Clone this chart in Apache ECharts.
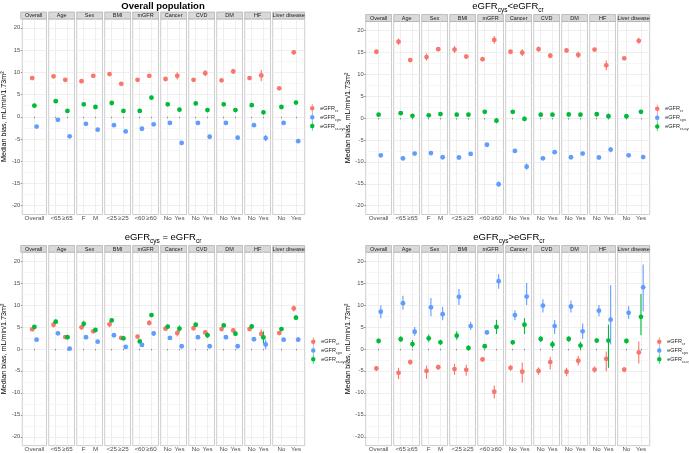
<!DOCTYPE html>
<html>
<head>
<meta charset="utf-8">
<script src="https://cdn.jsdelivr.net/npm/echarts@6/dist/echarts.min.js"></script>
<style>
html,body{margin:0;padding:0;background:#fff}
#main{width:689px;height:453px}
</style>
</head>
<body>
<div id="main"></div>
<script>
// facets and their levels
var facetNames = ['Overall','Age','Sex','BMI','mGFR','Cancer','CVD','DM','HF','Liver disease'];
var facetLevels = [['Overall'],['<65','≥65'],['F','M'],['<25','≥25'],['<60','≥60'],['No','Yes'],['No','Yes'],['No','Yes'],['No','Yes'],['No','Yes']];
var yTicks = [-20,-15,-10,-5,0,5,10,15,20];
var yGrid = [-20,-17.5,-15,-12.5,-10,-7.5,-5,-2.5,0,2.5,5,7.5,10,12.5,15,17.5,20];

// panel 1: overall population (median, [lo, hi])
var p1Cr = [8.7,9.1,8.3,8.0,9.2,9.6,7.4,8.3,9.2,8.5,9.2,8.3,9.8,8.2,10.2,8.7,9.3,6.4,14.5];
var p1CrCI = [[8.4,9.0],[8.7,9.5],[8.0,8.6],[7.6,8.4],[8.8,9.6],[9.2,10.0],[7.1,7.7],[8.0,8.6],[8.8,9.6],[8.2,8.8],[8.4,10.0],[8.0,8.6],[9.1,10.5],[7.9,8.5],[9.6,10.8],[8.4,9.0],[8.0,10.6],[6.1,6.7],[14.0,15.0]];
var p1Cys = [-2.2,-0.7,-4.4,-1.6,-2.9,-1.9,-3.3,-2.7,-1.7,-1.4,-5.9,-1.4,-4.5,-1.4,-4.7,-1.9,-4.8,-1.4,-5.5];
var p1CysCI = [[-2.5,-1.9],[-1.0,-0.4],[-4.7,-4.1],[-1.9,-1.3],[-3.2,-2.6],[-2.2,-1.6],[-3.6,-3.0],[-3.0,-2.4],[-2.0,-1.4],[-1.7,-1.1],[-6.3,-5.5],[-1.7,-1.1],[-4.9,-4.1],[-1.7,-1.1],[-5.1,-4.3],[-2.2,-1.6],[-5.5,-4.1],[-1.7,-1.1],[-5.9,-5.1]];
var p1CrCys = [2.5,3.5,1.3,2.8,2.2,3.1,1.3,1.3,4.3,2.8,1.6,3.0,1.5,2.8,1.5,2.6,1.0,2.2,3.2];
var p1CrCysCI = [[2.3,2.7],[3.2,3.8],[1.1,1.5],[2.5,3.1],[1.9,2.5],[2.8,3.4],[1.1,1.5],[1.1,1.5],[3.9,4.7],[2.6,3.0],[1.2,2.0],[2.8,3.2],[1.1,1.9],[2.6,3.0],[1.1,1.9],[2.4,2.8],[0.5,1.5],[2.0,2.4],[2.8,3.6]];

// panel 2: eGFRcys < eGFRcr
var p2Cr = [15.1,17.4,13.2,13.9,15.7,15.6,14.0,13.4,17.8,15.1,14.9,15.7,14.2,15.4,14.4,15.6,12.0,13.6,17.6];
var p2CrCI = [[14.8,15.4],[16.7,18.1],[12.7,13.7],[13.1,14.7],[15.2,16.2],[14.8,16.4],[13.5,14.5],[12.9,13.9],[16.9,18.7],[14.7,15.5],[14.1,15.7],[15.1,16.3],[13.6,14.8],[15.0,15.8],[13.7,15.1],[15.2,16.0],[10.9,13.1],[13.2,14.0],[16.9,18.3]];
var p2Cys = [-8.5,-9.2,-8.1,-8.0,-8.95,-9.0,-8.2,-6.1,-15.1,-7.5,-11.1,-9.2,-7.8,-8.95,-8.1,-9.0,-7.2,-8.5,-8.9];
var p2CysCI = [[-8.8,-8.2],[-9.7,-8.7],[-8.5,-7.7],[-8.5,-7.5],[-9.35,-8.55],[-9.4,-8.6],[-8.6,-7.8],[-6.5,-5.7],[-15.7,-14.5],[-7.9,-7.1],[-11.8,-10.4],[-9.6,-8.8],[-8.2,-7.4],[-9.25,-8.65],[-8.5,-7.7],[-9.3,-8.7],[-7.8,-6.6],[-8.8,-8.2],[-9.3,-8.5]];
var p2CrCys = [0.75,1.1,0.5,0.6,0.9,0.75,0.75,1.4,-0.6,1.4,-0.2,0.75,0.75,0.8,0.75,0.85,0.4,0.4,1.4];
var p2CrCysCI = [[0.55,0.95],[0.8,1.4],[0.3,0.7],[0.3,0.9],[0.6,1.2],[0.45,1.05],[0.45,1.05],[1.0,1.8],[-1.2,0.0],[1.1,1.7],[-0.7,0.3],[0.45,1.05],[0.45,1.05],[0.6,1.0],[0.45,1.05],[0.65,1.05],[-0.2,1.0],[0.2,0.6],[0.9,1.9]];

// panel 3: eGFRcys = eGFRcr
var p3Cr = [4.45,5.5,2.7,4.9,4.0,5.6,2.5,2.8,5.9,4.6,3.6,4.7,3.75,4.5,4.2,4.5,3.4,3.6,9.2];
var p3CrCI = [[4.15,4.75],[4.9,6.1],[2.4,3.0],[4.3,5.5],[3.6,4.4],[4.9,6.3],[2.2,2.8],[2.4,3.2],[5.3,6.5],[4.3,4.9],[2.8,4.4],[4.3,5.1],[3.25,4.25],[4.2,4.8],[3.7,4.7],[4.2,4.8],[2.4,4.4],[3.2,4.0],[8.5,9.9]];
var p3Cys = [2.1,3.55,0.05,2.65,1.65,3.1,0.45,0.9,3.5,2.5,0.6,2.65,0.6,2.65,0.6,2.2,1.0,2.1,2.1];
var p3CysCI = [[1.9,2.3],[3.15,3.95],[-0.25,0.35],[2.25,3.05],[1.35,1.95],[2.7,3.5],[0.15,0.75],[0.6,1.2],[3.0,4.0],[2.2,2.8],[0.1,1.1],[2.35,2.95],[0.2,1.0],[2.35,2.95],[0.2,1.0],[1.9,2.5],[-0.1,2.1],[1.8,2.4],[1.6,2.6]];
var p3CrCys = [5.0,6.2,2.65,5.7,4.3,6.5,2.4,1.7,7.7,5.05,4.6,5.5,3.1,5.35,3.45,5.1,2.6,4.5,7.1];
var p3CrCysCI = [[4.7,5.3],[5.7,6.7],[2.35,2.95],[5.0,6.4],[3.9,4.7],[6.0,7.0],[2.1,2.7],[1.4,2.0],[7.3,8.1],[4.75,5.35],[3.9,5.3],[5.2,5.8],[2.5,3.7],[5.05,5.65],[2.95,3.95],[4.8,5.4],[1.2,4.0],[4.1,4.9],[6.6,7.6]];

// panel 4: eGFRcys > eGFRcr
var p4Cr = [-4.45,-5.45,-3.0,-5.0,-4.15,-4.6,-4.75,-2.4,-9.75,-4.3,-5.2,-5.0,-3.0,-5.2,-2.7,-4.7,-2.25,-4.7,-0.8];
var p4CrCI = [[-5.0,-3.9],[-6.9,-4.3],[-3.6,-2.4],[-6.8,-3.8],[-4.8,-3.6],[-5.9,-3.4],[-6.1,-3.6],[-2.9,-1.9],[-11.3,-8.3],[-5.0,-3.7],[-7.7,-3.1],[-5.9,-4.2],[-4.7,-1.8],[-6.2,-4.3],[-3.8,-1.6],[-5.4,-4.0],[-5.1,-0.6],[-5.3,-4.1],[-3.3,1.7]];
var p4Cys = [8.45,10.4,3.9,9.45,7.9,11.85,5.2,3.75,15.4,7.7,11.9,9.85,5.2,9.65,4.0,8.7,6.65,8.2,14.0];
var p4CysCI = [[7.0,9.9],[8.9,12.1],[3.0,5.0],[7.4,11.6],[6.5,9.6],[10.0,13.6],[4.3,6.2],[3.2,4.3],[13.7,17.0],[6.5,8.8],[10.0,15.0],[8.3,11.3],[3.4,6.6],[8.3,11.0],[2.3,5.8],[7.4,10.0],[1.0,14.5],[6.8,9.7],[8.5,19.2]];
var p4CrCys = [1.8,2.2,1.1,2.4,1.5,3.0,0.2,0.6,5.0,1.5,5.5,2.25,1.0,2.25,0.75,1.9,1.9,1.8,7.3];
var p4CrCysCI = [[1.3,2.3],[1.6,2.9],[0.3,2.0],[1.6,3.3],[0.9,2.1],[2.1,4.0],[-0.4,0.8],[0.2,1.0],[3.4,6.6],[1.0,2.0],[3.4,7.0],[1.6,2.9],[0.2,1.8],[1.6,2.9],[-0.1,1.6],[1.4,2.4],[-4.3,5.5],[1.3,2.3],[3.1,12.5]];

var FONT = 'Liberation Sans, Arial, sans-serif';
var colors = {cr:'#F8766D', cys:'#619CFF', crcys:'#00BA38'};
var dodge = {cr:-2.2, crcys:0, cys:2.2};
var drawOrder = ['cr','crcys','cys'];
var legendLabels = {cr:'{b|eGFR}{s|cr}', cys:'{b|eGFR}{s|cys}', crcys:'{b|eGFR}{s|cr-cys}'};

var panels = [
  {title:'Overall population', bold:true, x0:20.7, top:19, height:195.5, stripTop:12, titleX:163, titleY:6, legLeft:310, legTop:104,
   med:{cr:p1Cr, cys:p1Cys, crcys:p1CrCys}, ci:{cr:p1CrCI, cys:p1CysCI, crcys:p1CrCysCI}},
  {title:'{n|eGFR}{s|cys}{n|<eGFR}{s|cr}', x0:365.7, top:21.5, height:193, stripTop:14.5, titleX:508, titleY:6, legLeft:655, legTop:104.5,
   med:{cr:p2Cr, cys:p2Cys, crcys:p2CrCys}, ci:{cr:p2CrCI, cys:p2CysCI, crcys:p2CrCysCI}},
  {title:'{n|eGFR}{s|cys}{n| = eGFR}{s|cr}', x0:20.7, top:252.2, height:193.4, stripTop:245.5, titleX:163, titleY:237, legLeft:311, legTop:337.3,
   med:{cr:p3Cr, cys:p3Cys, crcys:p3CrCys}, ci:{cr:p3CrCI, cys:p3CysCI, crcys:p3CrCysCI}},
  {title:'{n|eGFR}{s|cys}{n|>eGFR}{s|cr}', x0:365.7, top:252.2, height:193.4, stripTop:245.5, titleX:509, titleY:237, legLeft:657, legTop:337.3,
   med:{cr:p4Cr, cys:p4Cys, crcys:p4CrCys}, ci:{cr:p4CrCI, cys:p4CysCI, crcys:p4CrCysCI}}
];

function facetLeft(p, f) { return p.x0 + f * 28; }
function facetWidth(f) { return f === 9 ? 32 : 25.8; }

function makeRender(col, dx) {
  return function (params, api) {
    var x0 = api.value(0);
    var p = api.coord([x0, api.value(1)]);
    var lo = api.coord([x0, api.value(2)]);
    var hi = api.coord([x0, api.value(3)]);
    var x = p[0] + dx;
    return {type:'group', children:[
      {type:'line', shape:{x1:x, y1:lo[1], x2:x, y2:hi[1]}, style:{stroke:col, lineWidth:1.1}},
      {type:'circle', shape:{cx:x, cy:p[1], r:2.4}, style:{fill:col}}
    ]};
  };
}

var legendIcon = 'path://M2.6,0 H3.4 V2.4 H2.6 Z M2.6,7.6 H3.4 V10 H2.6 Z M0.4,5 A2.6,2.6 0 1 1 5.6,5 A2.6,2.6 0 1 1 0.4,5 Z';

var grids = [], xAxes = [], yAxes = [], series = [], legends = [], graphics = [];

panels.forEach(function (p) {
  // title
  graphics.push({type:'text', x:p.titleX, y:p.titleY, style:{
    text:p.title, align:'center', verticalAlign:'middle', fill:'#000',
    font:(p.bold ? 'bold ' : '') + '9.5px ' + FONT,
    rich:{n:{fontSize:9.5, fontFamily:FONT, fill:'#000', verticalAlign:'bottom', lineHeight:11},
          s:{fontSize:6.5, fontFamily:FONT, fill:'#000', verticalAlign:'bottom', lineHeight:7, padding:[0,0,-2,0]}}
  }});

  var start = 0;
  facetNames.forEach(function (fname, f) {
    var lv = facetLevels[f];
    var n = lv.length;
    var left = facetLeft(p, f), w = facetWidth(f);
    var g = grids.length;
    grids.push({left:left, top:p.top, width:w, height:p.height, show:true,
      borderColor:'#b8b8b8', borderWidth:0.7, backgroundColor:'#fff'});

    // strip
    graphics.push({type:'rect', shape:{x:left, y:p.stripTop, width:w, height:p.top - p.stripTop},
      style:{fill:'#d9d9d9', stroke:'#a3a3a3', lineWidth:0.6}});
    graphics.push({type:'text', x:left + w / 2, y:(p.stripTop + p.top) / 2 + 0.3, style:{
      text:fname, align:'center', verticalAlign:'middle', font:'5.5px ' + FONT, fill:'#1a1a1a'}});

    var pos = lv.map(function (d, i) { return i + 1; });
    xAxes.push({gridIndex:g, type:'value', min:0.4, max:n + 0.6,
      axisLine:{show:false},
      axisTick:{show:true, customValues:pos, length:1.5, lineStyle:{color:'#555', width:0.6}},
      axisLabel:{customValues:pos, fontSize:6.2, fontFamily:FONT, color:'#4d4d4d', margin:1,
        formatter:function (v) { return lv[Math.round(v) - 1]; }},
      splitLine:{show:true, lineStyle:{color:'#ebebeb', width:0.8}}
    });
    var yMain = yAxes.length;
    yAxes.push({gridIndex:g, type:'value', min:-22, max:22, position:'left',
      axisLine:{show:false}, axisTick:{show:false, customValues:yGrid}, axisLabel:{show:false},
      splitLine:{show:true, lineStyle:{color:['#e8e8e8','#f4f4f4'], width:0.7}}
    });
    if (f === 0) {
      yAxes.push({gridIndex:g, type:'value', min:-22, max:22, position:'left',
        axisLine:{show:false},
        axisTick:{show:true, customValues:yTicks, length:1.5, lineStyle:{color:'#555', width:0.6}},
        axisLabel:{customValues:yTicks, fontSize:5.8, fontFamily:FONT, color:'#4d4d4d', margin:2},
        splitLine:{show:false},
        name:'Median bias, mL/min/1.73m²', nameLocation:'middle', nameGap:10,
        nameTextStyle:{fontSize:7.2, fontFamily:FONT, color:'#000'}
      });
    }

    drawOrder.forEach(function (k) {
      var data = [];
      for (var i = 0; i < n; i++) {
        var j = start + i;
        data.push([i + 1, p.med[k][j], p.ci[k][j][0], p.ci[k][j][1]]);
      }
      series.push({type:'custom', name:k, xAxisIndex:g, yAxisIndex:yMain,
        itemStyle:{color:colors[k]}, encode:{x:0, y:1},
        renderItem:makeRender(colors[k], dodge[k]), data:data, silent:true});
    });
    start += n;
  });

  legends.push({orient:'vertical', left:p.legLeft, top:p.legTop, itemWidth:6, itemHeight:8.7, itemGap:0,
    selectedMode:false, padding:0,
    data:['cr','cys','crcys'].map(function (k) { return {name:k, icon:legendIcon, itemStyle:{color:colors[k]}}; }),
    formatter:function (name) { return legendLabels[name]; },
    textStyle:{fontSize:5.5, fontFamily:FONT, color:'#1a1a1a',
      rich:{b:{fontSize:5.5, fontFamily:FONT, color:'#1a1a1a', verticalAlign:'bottom'},
            s:{fontSize:4, fontFamily:FONT, color:'#1a1a1a', verticalAlign:'bottom', padding:[0,0,-1.5,0]}}}
  });
});

var chart = echarts.init(document.getElementById('main'), null, {renderer:'canvas'});
chart.setOption({
  animation:false,
  backgroundColor:'#fff',
  grid:grids, xAxis:xAxes, yAxis:yAxes, series:series, legend:legends,
  graphic:graphics
});
</script>
</body>
</html>
